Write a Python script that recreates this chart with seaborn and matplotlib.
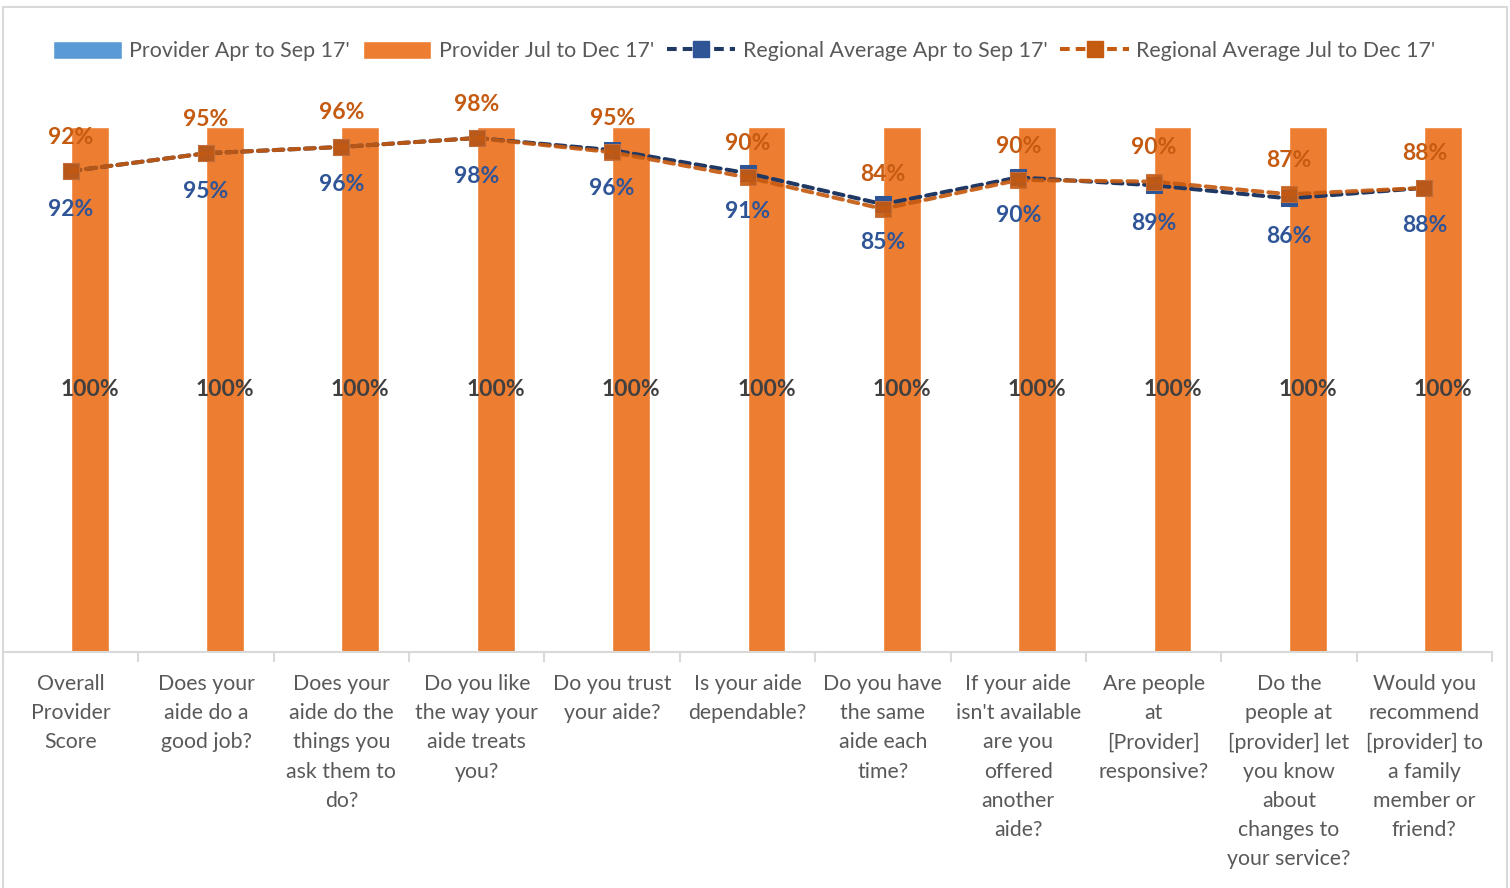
import numpy as np
import pandas as pd
import matplotlib
matplotlib.use('Agg')
import matplotlib.pyplot as plt
import seaborn as sns
from matplotlib.lines import Line2D
from matplotlib.patches import Patch, Rectangle

#########################
#         Data          #
#########################

questions = [
    'Overall\nProvider\nScore',
    'Does your\naide do a\ngood job?',
    'Does your\naide do the\nthings you\nask them to\ndo?',
    'Do you like\nthe way your\naide treats\nyou?',
    'Do you trust\nyour aide?',
    'Is your aide\ndependable?',
    'Do you have\nthe same\naide each\ntime?',
    "If your aide\nisn't available\nare you\noffered\nanother\naide?",
    'Are people\nat\n[Provider]\nresponsive?',
    'Do the\npeople at\n[provider] let\nyou know\nabout\nchanges to\nyour service?',
    'Would you\nrecommend\n[provider] to\na family\nmember or\nfriend?',
]

provider_apr_sep = [0, 0, 0, 0, 0, 0, 0, 0, 0, 0, 0]
provider_jul_dec = [1.0, 1.0, 1.0, 1.0, 1.0, 1.0, 1.0, 1.0, 1.0, 1.0, 1.0]
regional_apr_sep = [0.916, 0.950, 0.962, 0.979, 0.956, 0.912, 0.853, 0.904, 0.889, 0.864, 0.884]
regional_jul_dec = [0.916, 0.950, 0.962, 0.979, 0.952, 0.904, 0.844, 0.899, 0.896, 0.872, 0.884]

series_names = ["Provider Apr to Sep 17'", "Provider Jul to Dec 17'",
                "Regional Average Apr to Sep 17'", "Regional Average Jul to Dec 17'"]

# colours
bar_blue = '#5b9bd5'
bar_orange = '#ed7d31'
line_navy = '#1f3864'
marker_blue = '#2f5597'
line_orange = '#c55a11'
text_grey = '#595959'

df_bars = pd.DataFrame({
    'question': questions * 2,
    'value': provider_apr_sep + provider_jul_dec,
    'series': [series_names[0]] * len(questions) + [series_names[1]] * len(questions),
})

##########################
#   Plotting the data    #
##########################
sns.set_theme(style='white')
plt.rcParams['font.family'] = ['Lato', 'DejaVu Sans']

fig = plt.figure(figsize=(15.1, 8.88), dpi=100)
ax = fig.add_axes([3 / 1510, 236 / 888, 1489 / 1510, 630 / 888])

sns.barplot(data=df_bars, x='question', y='value', hue='series',
            palette=[bar_blue, bar_orange], width=0.56, errorbar=None,
            saturation=1, legend=False, ax=ax)

xpos = np.arange(len(questions))
dash = (0, (2.4, 1.5))
sns.lineplot(x=xpos, y=regional_apr_sep, ax=ax, color=line_navy, lw=2.9,
             linestyle=dash, dash_capstyle='round', marker='s', markersize=11.5,
             markerfacecolor=marker_blue, markeredgecolor=marker_blue, zorder=4)
sns.lineplot(x=xpos, y=regional_jul_dec, ax=ax, color=line_orange, lw=2.9,
             linestyle=dash, dash_capstyle='round', marker='s', markersize=11.5,
             markerfacecolor=line_orange, markeredgecolor='#c8703a', alpha=0.92, zorder=5)

# data labels
for i, (a, b) in enumerate(zip(regional_apr_sep, regional_jul_dec)):
    ax.annotate(f'{b:.0%}', (i, b), xytext=(0, 34), textcoords='offset pixels',
                ha='center', va='center', fontsize=16.5, fontweight='bold', color=line_orange)
    ax.annotate(f'{a:.0%}', (i, a), xytext=(0, -38), textcoords='offset pixels',
                ha='center', va='center', fontsize=16.5, fontweight='bold', color=marker_blue)
for i, v in enumerate(provider_jul_dec):
    ax.text(i + 0.14, v * 0.5, f'{v:.0%}', ha='center', va='center',
            fontsize=16.5, fontweight='bold', color='#404040', zorder=6)

ax.set_xlim(-0.5, len(questions) - 0.5)
ax.set_ylim(0, 1.2)
ax.set_yticks([])
ax.set_xlabel('')
ax.set_ylabel('')
for s in ['left', 'right', 'top']:
    ax.spines[s].set_visible(False)
ax.spines['bottom'].set_color('#d9d9d9')
ax.spines['bottom'].set_linewidth(1.5)
ax.set_xticks(np.arange(-0.5, len(questions), 1), minor=True)
ax.tick_params(axis='x', which='major', length=0, pad=16, labelsize=15.3, labelcolor=text_grey)
ax.tick_params(axis='x', which='minor', length=7, width=1.5, color='#d9d9d9', bottom=True)
for lbl in ax.get_xticklabels():
    lbl.set_linespacing(1.57)
    lbl.set_verticalalignment('top')

# legend
handles = [
    Patch(facecolor=bar_blue),
    Patch(facecolor=bar_orange),
    Line2D([], [], color=line_navy, lw=2.9, linestyle=dash, marker='s', markersize=11.5,
           markerfacecolor=marker_blue, markeredgecolor=marker_blue),
    Line2D([], [], color=line_orange, lw=2.9, linestyle=dash, marker='s', markersize=11.5,
           markerfacecolor=line_orange, markeredgecolor=line_orange),
]
fig.legend(handles, series_names, loc='center', bbox_to_anchor=(0.493, 1 - 51 / 888),
           ncol=4, frameon=False, fontsize=15.4, labelcolor=text_grey,
           handlelength=3.2, handleheight=0.95, columnspacing=0.6, handletextpad=0.35)

# chart border
fig.patches.append(Rectangle((3 / 1510, -0.02), 1504 / 1510, 1 - 7 / 888 + 0.02,
                             transform=fig.transFigure, fill=False,
                             edgecolor='#d9d9d9', lw=1.5))

plt.savefig('out.png', dpi=100)
